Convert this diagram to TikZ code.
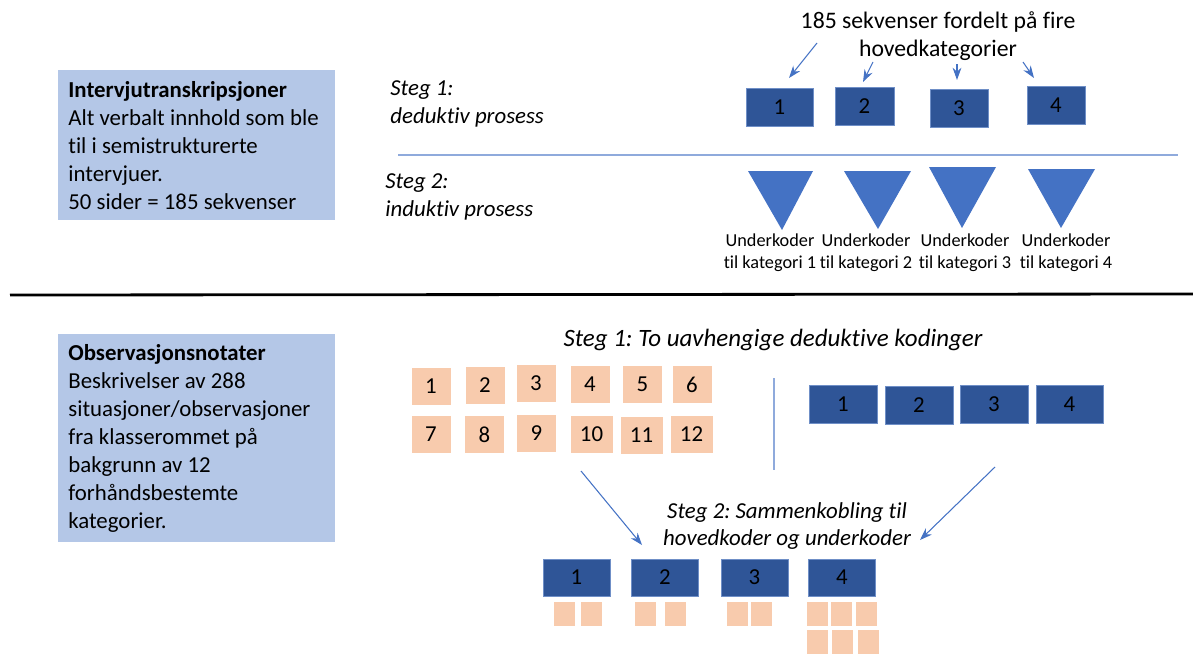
\documentclass[tikz,border=0pt]{standalone}
\usepackage{fontspec}
\setmainfont{Carlito}[Ligatures=NoCommon]
\frenchspacing
\usetikzlibrary{arrows.meta}
\definecolor{kodeblaa}{HTML}{2F5597}
\definecolor{kodekant}{HTML}{6F8FC7}
\definecolor{trekant}{HTML}{4472C4}
\definecolor{infoblaa}{HTML}{B4C7E7}
\definecolor{fersken}{HTML}{F8CBAD}
\definecolor{linjeblaa}{HTML}{8FAADC}
\tikzset{
  hovedkode/.style={
    shape = rectangle,
    fill = kodeblaa,
    draw = kodekant,
    line width = 0.4pt,
    minimum width = 1.34cm,
    minimum height = 0.76cm,
    inner sep = 0pt,
    font = \fontsize{13}{16}\selectfont
  },
  kategori/.style={
    shape = rectangle,
    fill = fersken,
    draw = white,
    line width = 0.4pt,
    minimum width = 0.8cm,
    minimum height = 0.76cm,
    inner sep = 0pt,
    font = \fontsize{13}{16}\selectfont
  },
  underkode/.style={
    shape = rectangle,
    fill = fersken,
    draw = white,
    line width = 0.4pt,
    minimum width = 0.44cm,
    minimum height = 0.5cm,
    inner sep = 0pt
  },
  infoboks/.style={
    shape = rectangle,
    fill = infoblaa,
    anchor = north west,
    inner sep = 0pt,
    minimum width = 5.54cm
  },
  infotekst/.style={
    anchor = west,
    inner sep = 0pt,
    align = left,
    font = \fontsize{13}{15.9}\selectfont
  },
  stegtekst/.style={
    inner sep = 0pt,
    font = \fontsize{13}{15.9}\selectfont\itshape
  },
  tekst/.style={
    inner sep = 0pt,
    align = center,
    font = \fontsize{13.5}{15.9}\selectfont
  },
  liten/.style={
    inner sep = 0pt,
    align = center,
    font = \fontsize{10.4}{12.5}\selectfont
  },
  pil/.style={
    draw = trekant,
    line width = 0.6pt,
    -{Stealth[length=7pt,width=5pt]}
  }
}

\begin{document}
\begin{tikzpicture}[x=0.02cm,y=-0.02cm]
    \useasboundingbox (0,0) rectangle (1193,653);

    % intervju
    \node[infoboks, minimum height=3cm] (intervju) at (58,70) {};
    \node[infotekst] (intervjutekst) at ([xshift=0.2cm]intervju.west) {\textbf{Intervjutranskripsjoner}\\Alt verbalt innhold som ble\\til i semistrukturerte\\intervjuer.\\50 sider = 185 sekvenser};

    \node[stegtekst, anchor=west, align=left] (steg1a) at (390,104) {Steg 1:\\deduktiv prosess};
    \node[stegtekst, anchor=west, align=left] (steg2a) at (385,197) {Steg 2:\\induktiv prosess};

    \node[tekst] (fordelt) at (938,36) {185 sekvenser fordelt på fire\\hovedkategorier};

    \node[hovedkode] (t1) at (779.5,107) {1};
    \node[hovedkode, minimum width=1.18cm] (t2) at (864.5,106) {2};
    \node[hovedkode, minimum width=1.16cm] (t3) at (959,108) {3};
    \node[hovedkode, minimum width=1.16cm] (t4) at (1056,105.5) {4};

    \coordinate (a1) at (817,43);  \coordinate (b1) at (789,78);
    \coordinate (a2) at (873,62);  \coordinate (b2) at (863,82);
    \coordinate (a3) at (957,64);  \coordinate (b3) at (957,80);
    \coordinate (a4) at (1023,62); \coordinate (b4) at (1034,78);
    \draw[pil] (a1) -- (b1);
    \draw[pil] (a2) -- (b2);
    \draw[pil] (a3) -- (b3);
    \draw[pil] (a4) -- (b4);

    \draw[linjeblaa, line width=0.6pt] (398,155) -- (1178,155);

    \fill[trekant] (748,171) -- (813,171) -- (782,230) -- cycle;
    \fill[trekant] (844,171) -- (911,171) -- (878,229) -- cycle;
    \fill[trekant] (929,167) -- (996,167) -- (962,228) -- cycle;
    \fill[trekant] (1028,169) -- (1095,169) -- (1061,228) -- cycle;

    \node[liten] (u1) at (770,253) {Underkoder\\til kategori 1};
    \node[liten] (u2) at (866,253) {Underkoder\\til kategori 2};
    \node[liten] (u3) at (965,253) {Underkoder\\til kategori 3};
    \node[liten] (u4) at (1066,253) {Underkoder\\til kategori 4};

    \draw[line width=1.6pt] (10,295) -- (1193,294);

    % observasjon
    \node[infoboks, minimum height=4.16cm] (observasjon) at (58,334) {};
    \node[infotekst] (observasjontekst) at ([xshift=0.2cm]observasjon.west) {\textbf{Observasjonsnotater}\\Beskrivelser av 288\\situasjoner/observasjoner\\fra klasserommet på\\bakgrunn av 12\\forhåndsbestemte\\kategorier.};

    \node[stegtekst, font=\fontsize{14.2}{16}\selectfont\itshape] (steg1b) at (773,340) {Steg 1: To uavhengige deduktive kodinger};

    \node[kategori] (p1) at (431,386) {1};
    \node[kategori] (p2) at (485,385) {2};
    \node[kategori] (p3) at (536,383.5) {3};
    \node[kategori] (p4) at (590,384.5) {4};
    \node[kategori] (p5) at (642.5,384.5) {5};
    \node[kategori] (p6) at (692,384.5) {6};
    \node[kategori] (p7) at (431,434.5) {7};
    \node[kategori] (p8) at (484.5,434.5) {8};
    \node[kategori] (p9) at (536.5,433) {9};
    \node[kategori, minimum width=0.86cm] (p10) at (591.5,434.5) {10};
    \node[kategori, minimum width=0.86cm] (p11) at (641.5,435) {11};
    \node[kategori, minimum width=0.86cm] (p12) at (691.5,434.5) {12};

    \draw[linjeblaa, line width=0.8pt] (774,378) -- (774,470);

    \node[hovedkode, minimum width=1.36cm] (k1) at (843,404) {1};
    \node[hovedkode, minimum width=1.36cm] (k2) at (919,405) {2};
    \node[hovedkode, minimum width=1.36cm] (k3) at (994,404) {3};
    \node[hovedkode, minimum width=1.34cm] (k4) at (1069.5,404) {4};

    \node[stegtekst, align=center] (steg2b) at (787,526) {Steg 2: Sammenkobling til\\hovedkoder og underkoder};

    \coordinate (c1) at (581,471); \coordinate (d1) at (642,545);
    \coordinate (c2) at (995,467); \coordinate (d2) at (920,540);
    \draw[pil] (c1) -- (d1);
    \draw[pil] (c2) -- (d2);

    \node[hovedkode, minimum height=0.74cm] (h1) at (576.5,577.5) {1};
    \node[hovedkode, minimum height=0.74cm] (h2) at (665,577.5) {2};
    \node[hovedkode, minimum height=0.74cm] (h3) at (754.5,577.5) {3};
    \node[hovedkode, minimum height=0.74cm] (h4) at (842,577.5) {4};

    \node[underkode] (s1) at (564.5,614) {};
    \node[underkode] (s2) at (591,614) {};
    \node[underkode] (s3) at (645.5,614) {};
    \node[underkode] (s4) at (675.5,614) {};
    \node[underkode] (s5) at (737,614) {};
    \node[underkode] (s6) at (761.5,614) {};
    \node[underkode] (s7) at (817,614) {};
    \node[underkode] (s8) at (841.5,614) {};
    \node[underkode] (s9) at (866.5,614) {};
    \node[underkode] (s10) at (817,641.5) {};
    \node[underkode] (s11) at (842.5,641.5) {};
    \node[underkode] (s12) at (868.5,641.5) {};
\end{tikzpicture}
\end{document}
